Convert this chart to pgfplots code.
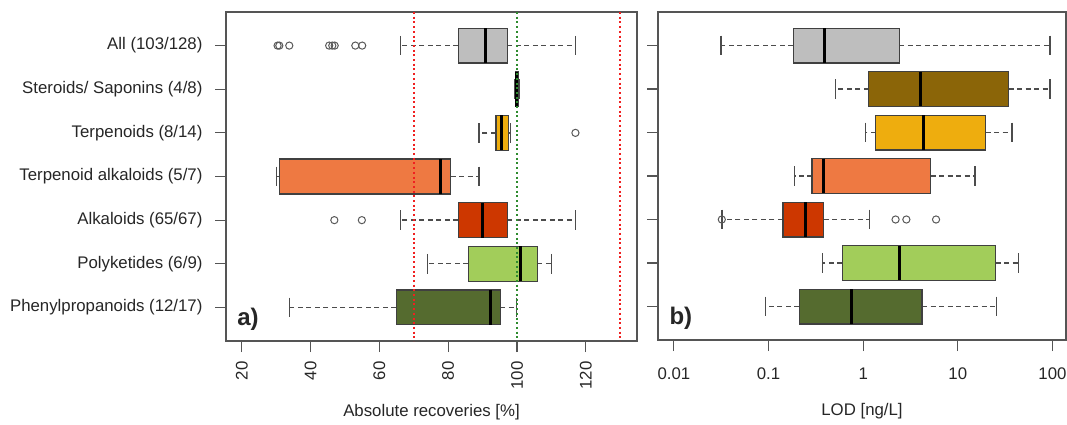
\documentclass[border=0pt]{standalone}
\usepackage{pgfplots}
\pgfplotsset{compat=1.18}
\usepgfplotslibrary{statistics}
\usepackage{fontspec}
\setmainfont{Liberation Sans}

\definecolor{cAll}{HTML}{BEBEBE}
\definecolor{cSter}{HTML}{8B6508}
\definecolor{cTerp}{HTML}{EEAD0E}
\definecolor{cTalk}{HTML}{EE7942}
\definecolor{cAlk}{HTML}{CD3700}
\definecolor{cPoly}{HTML}{A2CD5A}
\definecolor{cPhen}{HTML}{556B2F}
\definecolor{frame}{HTML}{555555}
\definecolor{txt}{HTML}{262626}
\definecolor{refred}{HTML}{F02020}
\definecolor{refgreen}{HTML}{2E8B2E}

\pgfplotsset{
  boxplot/draw/whisker/.code 2 args={%
    \draw[black!70, line width=1.4pt, dash pattern=on 5pt off 3.5pt]
      (boxplot cs:#1) -- (boxplot cs:#2);
    \draw[black!70, line width=1.4pt]
      (boxplot whisker cs:#2,0) -- (boxplot whisker cs:#2,1);
  },
  panel/.style={
    scale only axis,
    y dir=reverse,
    ymin=0.23, ymax=7.77,
    ytick={1,...,7},
    tick align=outside,
    major tick length=11pt,
    xtick pos=bottom, ytick pos=left,
    axis line style={frame, line width=1.2pt},
    tick style={frame, line width=1.2pt},
    tick label style={font=\fontsize{16.8}{20}\selectfont, text=txt},
    label style={font=\fontsize{16.8}{20}\selectfont, text=txt},
    xlabel style={at={(axis description cs:0.5,0)}, anchor=center, yshift=-71pt},
    boxplot/draw direction=x,
    boxplot/box extend=0.8,
    boxplot/whisker extend=0.45,
    boxplot/every median/.style={black, line width=3pt},
  },
  bx/.style={
    draw=black!75,
    boxplot/every box/.style={fill=#1, draw=black!75, line width=1.2pt},
    mark=o, mark size=3.6pt,
    mark options={solid, draw=black!65, line width=1pt, fill=none},
  },
}

\begin{document}
\begin{tikzpicture}
\path[use as bounding box] (0,0) rectangle (1067pt,424pt);

% a) absolute recoveries
\begin{axis}[panel,
  at={(226pt,83pt)}, anchor=south west,
  width=411pt, height=329pt,
  xmin=15.4, xmax=134.9,
  xtick={20,40,60,80,100,120},
  xticklabels={20,40,60,80,100,120},
  xticklabel style={yshift=-6pt, rotate=90, anchor=east},
  yticklabel style={xshift=-9pt},
  yticklabels={All (103/128),Steroids/ Saponins (4/8),Terpenoids (8/14),Terpenoid alkaloids (5/7),Alkaloids (65/67),Polyketides (6/9),Phenylpropanoids (12/17)},
  xlabel={Absolute recoveries [\%]},
]
\addplot[bx=cAll, boxplot prepared={draw position=1,
  lower whisker=66.1, lower quartile=82.9, median=90.8,
  upper quartile=97.2, upper whisker=117.0}]
  coordinates {(30.4,30.4) (30.9,30.9) (33.8,33.8) (45.4,45.4) (46.3,46.3) (47.0,47.0) (53.0,53.0) (55.0,55.0)};
\addplot[bx=cSter, boxplot prepared={draw position=2,
  lower whisker=99.3, lower quartile=99.6, median=100.0,
  upper quartile=100.4, upper whisker=100.8}]
  coordinates {};
\addplot[bx=cTerp, boxplot prepared={draw position=3,
  lower whisker=89.0, lower quartile=93.9, median=95.6,
  upper quartile=97.6, upper whisker=98.2}]
  coordinates {(117.0,117.0)};
\addplot[bx=cTalk, boxplot prepared={draw position=4,
  lower whisker=30.0, lower quartile=30.9, median=77.9,
  upper quartile=80.7, upper whisker=89.0}]
  coordinates {};
\addplot[bx=cAlk, boxplot prepared={draw position=5,
  lower whisker=66.1, lower quartile=82.9, median=90.1,
  upper quartile=97.2, upper whisker=117.0}]
  coordinates {(46.9,46.9) (54.9,54.9)};
\addplot[bx=cPoly, boxplot prepared={draw position=6,
  lower whisker=74.0, lower quartile=85.8, median=100.9,
  upper quartile=105.9, upper whisker=110.0}]
  coordinates {};
\addplot[bx=cPhen, boxplot prepared={draw position=7,
  lower whisker=33.8, lower quartile=64.9, median=92.2,
  upper quartile=95.1, upper whisker=99.8}]
  coordinates {};
% reference lines
\addplot[refred, line width=2pt, dash pattern=on 2pt off 2.7pt] coordinates {(70,0.23) (70,7.77)};
\addplot[refred, line width=2pt, dash pattern=on 2pt off 2.7pt] coordinates {(130,0.23) (130,7.77)};
\addplot[refgreen, line width=2pt, dash pattern=on 2pt off 2.7pt] coordinates {(100,0.23) (100,7.77)};
\node[font=\bfseries\fontsize{24}{28}\selectfont, text=txt] at (axis description cs:0.0535,0.067) {a)};
\end{axis}

% b) LOD
\begin{axis}[panel,
  at={(658pt,84pt)}, anchor=south west,
  width=408pt, height=328pt,
  xmode=log,
  xmin=0.0068, xmax=139,
  xminorticks=false,
  xtick={0.01,0.1,1,10,100},
  xticklabels={0.01,0.1,1,10,100},
  xticklabel style={yshift=-13pt},
  yticklabels={},
  xlabel={LOD [ng/L]},
]
\addplot[bx=cAll, boxplot prepared={draw position=1,
  lower whisker=0.0314, lower quartile=0.182, median=0.392,
  upper quartile=2.41, upper whisker=94.5}]
  coordinates {};
\addplot[bx=cSter, boxplot prepared={draw position=2,
  lower whisker=0.512, lower quartile=1.14, median=4.08,
  upper quartile=34.5, upper whisker=94.5}]
  coordinates {};
\addplot[bx=cTerp, boxplot prepared={draw position=3,
  lower whisker=1.06, lower quartile=1.36, median=4.29,
  upper quartile=19.7, upper whisker=37.2}]
  coordinates {};
\addplot[bx=cTalk, boxplot prepared={draw position=4,
  lower whisker=0.189, lower quartile=0.288, median=0.382,
  upper quartile=5.17, upper whisker=15.2}]
  coordinates {};
\addplot[bx=cAlk, boxplot prepared={draw position=5,
  lower whisker=0.0321, lower quartile=0.142, median=0.246,
  upper quartile=0.382, upper whisker=1.17}]
  coordinates {(0.0321,0.0321) (2.2,2.2) (2.86,2.86) (5.89,5.89)};
\addplot[bx=cPoly, boxplot prepared={draw position=6,
  lower whisker=0.373, lower quartile=0.601, median=2.41,
  upper quartile=25.1, upper whisker=44.0}]
  coordinates {};
\addplot[bx=cPhen, boxplot prepared={draw position=7,
  lower whisker=0.093, lower quartile=0.211, median=0.762,
  upper quartile=4.19, upper whisker=25.5}]
  coordinates {};
\node[font=\bfseries\fontsize{24}{28}\selectfont, text=txt] at (axis description cs:0.056,0.067) {b)};
\end{axis}
\end{tikzpicture}
\end{document}
